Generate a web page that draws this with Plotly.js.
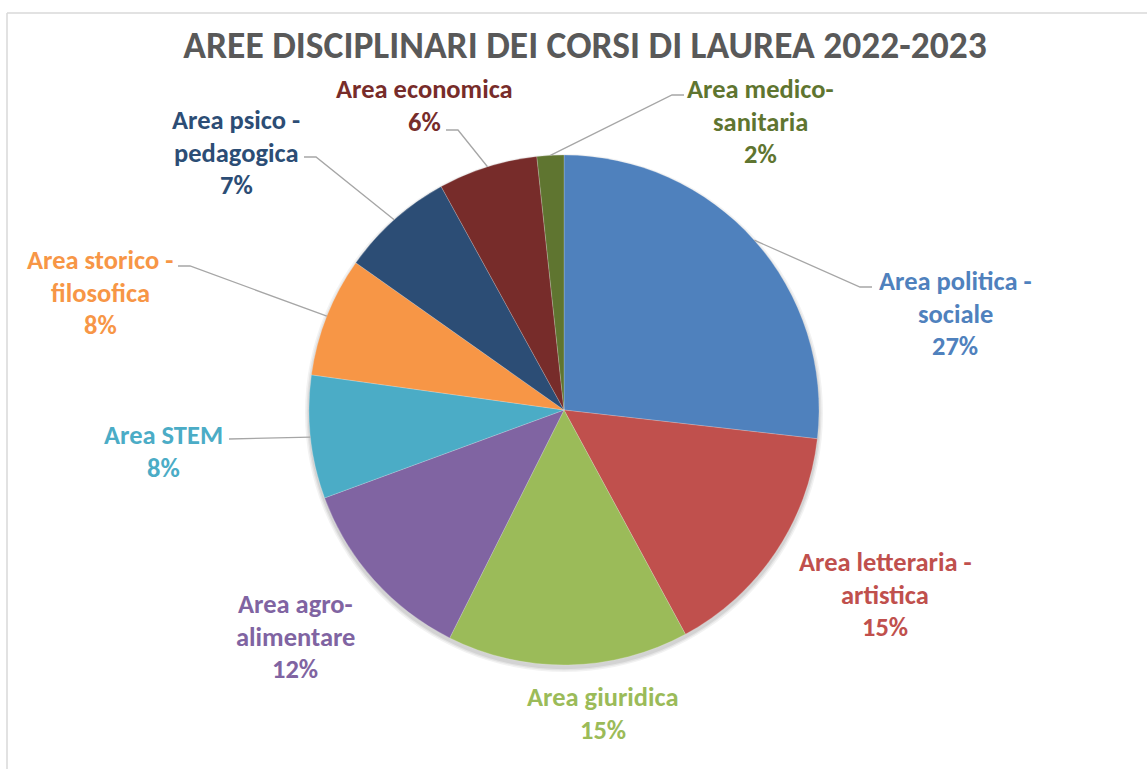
<!DOCTYPE html>
<html>
<head>
<meta charset="utf-8">
<script src="https://cdn.plot.ly/plotly-3.0.1.min.js"></script>
<style>html,body{margin:0;padding:0;background:#fff;}#chart{width:1147px;height:769px;}</style>
</head>
<body>
<div id="chart"></div>
<script>
// ---- DATA ----
const categories = [
  "Area politica -<br>sociale",
  "Area letteraria -<br>artistica",
  "Area giuridica",
  "Area agro-<br>alimentare",
  "Area STEM",
  "Area storico -<br>filosofica",
  "Area psico -<br>pedagogica",
  "Area economica",
  "Area medico-<br>sanitaria"
];
const values = [26.8, 15.3, 15.3, 12.0, 7.8, 7.6, 7.2, 6.3, 1.7];
const colors = ["#4F81BD", "#C0504D", "#9BBB59", "#8064A2", "#4BACC6", "#F79646", "#2C4D75", "#772C2A", "#5F7530"];
const titleText = "AREE DISCIPLINARI DEI CORSI DI LAUREA 2022-2023";

// ---- LAYOUT (pixels) ----
const W = 1147, H = 769;
const PIE_CX = 564, PIE_CY = 410, PIE_R = 255;
const LINE_GAP = 32.5;
const FONT = "Carlito, Calibri, 'Liberation Sans Narrow', 'DejaVu Sans Condensed', 'Open Sans', sans-serif";
const labelPlacement = [
  {cx: 955, top: 281, leader: [[872, 287], [860, 287]]},
  {cx: 885, top: 562, leader: null},
  {cx: 603, top: 697, leader: null},
  {cx: 295, top: 604, leader: null},
  {cx: 163, top: 435, leader: [[229, 439]]},
  {cx: 100, top: 260, leader: [[178, 266], [190, 266]]},
  {cx: 236, top: 120, leader: [[304, 157], [316, 157]]},
  {cx: 424, top: 89,  leader: [[446, 130], [458, 130]]},
  {cx: 760, top: 89,  leader: [[684, 95], [672, 95]]}
];

const px = x => x / W;
const py = y => 1 - y / H;

const total = values.reduce((a, b) => a + b, 0);
const annotations = [];
const shapes = [];

// frame lines
shapes.push({type: 'line', xref: 'paper', yref: 'paper', x0: px(7), x1: 1, y0: py(13), y1: py(13), line: {color: '#d9d9d9', width: 1.5}});
shapes.push({type: 'line', xref: 'paper', yref: 'paper', x0: px(7), x1: px(7), y0: py(13), y1: 0, line: {color: '#d9d9d9', width: 1.5}});

// soft shadow
[[4, 0.05], [2.5, 0.06], [1.2, 0.07]].forEach(([g, a]) => {
  shapes.push({type: 'circle', xref: 'paper', yref: 'paper', layer: 'below',
    x0: px(PIE_CX - PIE_R - g), x1: px(PIE_CX + PIE_R + g),
    y0: py(PIE_CY + 3 + PIE_R + g), y1: py(PIE_CY + 3 - PIE_R - g),
    fillcolor: 'rgba(0,0,0,' + a + ')', line: {width: 0}});
});

let cum = 0;
values.forEach((v, i) => {
  const mid = (cum + v / 2) / total;
  cum += v;
  const th = 2 * Math.PI * mid;
  const ex = PIE_CX + PIE_R * Math.sin(th);
  const ey = PIE_CY - PIE_R * Math.cos(th);
  const pl = labelPlacement[i];
  const lines = categories[i].split('<br>').concat([Math.round(v / total * 100) + '%']);
  lines.forEach((t, k) => {
    annotations.push({
      text: t, xref: 'paper', yref: 'paper', x: px(pl.cx), y: py(pl.top + k * LINE_GAP),
      xanchor: 'center', yanchor: 'middle', showarrow: false,
      font: {family: FONT, size: 26.5, color: colors[i], weight: 'bold'}
    });
  });
  if (pl.leader) {
    const pts = pl.leader.concat([[ex, ey]]);
    let d = 'M ' + px(pts[0][0]) + ' ' + py(pts[0][1]);
    for (let k = 1; k < pts.length; k++) d += ' L ' + px(pts[k][0]) + ' ' + py(pts[k][1]);
    shapes.push({type: 'path', xref: 'paper', yref: 'paper', path: d, line: {color: '#a6a6a6', width: 1.3}});
  }
});

const trace = {
  type: 'pie',
  labels: categories,
  values: values,
  sort: false,
  direction: 'clockwise',
  rotation: 0,
  textinfo: 'none',
  hoverinfo: 'label+percent',
  marker: {colors: colors, line: {color: 'rgba(255,255,255,0.4)', width: 0.5}},
  domain: {x: [px(PIE_CX - PIE_R), px(PIE_CX + PIE_R)], y: [py(PIE_CY + PIE_R), py(PIE_CY - PIE_R)]},
  showlegend: false
};

const layout = {
  width: W, height: H,
  margin: {l: 0, r: 0, t: 0, b: 0},
  paper_bgcolor: '#ffffff',
  showlegend: false,
  title: {text: titleText, x: px(585), xanchor: 'center', y: py(45), yanchor: 'middle',
    font: {family: FONT, size: 37.5, color: '#595959', weight: 'bold'}},
  annotations: annotations,
  shapes: shapes
};

Plotly.newPlot('chart', [trace], layout, {displayModeBar: false, staticPlot: true});
</script>
</body>
</html>
